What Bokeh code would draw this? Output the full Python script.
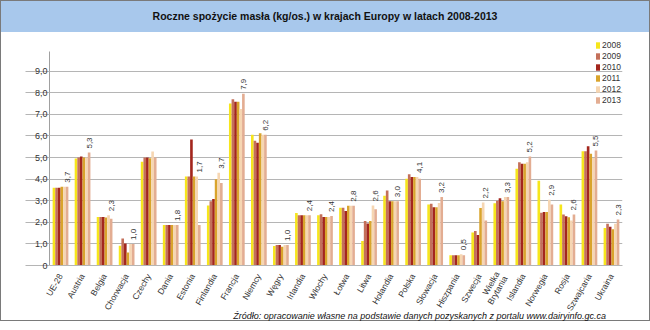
import math
from bokeh.plotting import figure
from bokeh.models import (ColumnDataSource, FixedTicker, Legend, LegendItem, Div,
                          Range1d, FactorRange)
from bokeh.layouts import column
from bokeh.transform import dodge
from bokeh.embed import file_html
from bokeh.resources import INLINE
from bokeh.core.properties import value

countries = ["UE-28", "Austria", "Belgia", "Chorwacja", "Czechy", "Dania", "Estonia",
             "Finlandia", "Francja", "Niemcy", "Węgry", "Irlandia", "Włochy", "Łotwa",
             "Litwa", "Holandia", "Polska", "Słowacja", "Hiszpania", "Szwecja",
             "Wielka\nBrytania", "Islandia", "Norwegia", "Rosja", "Szwajcaria", "Ukraina"]

years = ["2008", "2009", "2010", "2011", "2012", "2013"]

v2008 = [3.60, 4.95, 2.25, 0.92, 4.80, 1.88, 4.12, 2.78, 7.50, 6.05, 0.90, 2.43, 2.33,
         2.68, 1.14, 3.23, 4.02, 2.82, 0.47, 1.53, 2.88, 4.48, 3.92, 2.82, 5.29, 1.74]
v2009 = [3.60, 5.00, 2.25, 1.25, 5.00, 1.88, 4.12, 2.98, 7.70, 5.78, 0.95, 2.33, 2.37,
         2.68, 2.06, 3.47, 4.23, 2.86, 0.48, 1.60, 3.00, 4.78, 2.44, 2.36, 5.29, 1.93]
v2010 = [3.60, 5.05, 2.25, 1.02, 5.00, 1.88, 5.83, 3.08, 7.58, 5.68, 0.95, 2.33, 2.25,
         2.52, 1.95, 2.98, 4.10, 2.70, 0.48, 1.41, 3.12, 4.71, 2.48, 2.28, 5.52, 1.80]
v2011 = [3.65, 5.00, 2.22, 0.60, 4.97, 1.88, 4.12, 4.00, 7.58, 6.12, 0.87, 2.33, 2.25,
         2.77, 2.06, 2.98, 4.10, 2.70, 0.48, 2.66, 2.98, 4.71, 2.48, 2.24, 5.17, 1.68]
v2012 = [3.65, 5.00, 2.33, 1.00, 5.28, 1.88, 4.12, 4.30, 7.25, 6.05, 0.95, 2.33, 2.25,
         2.77, 2.78, 2.98, 4.10, 2.90, 0.52, 2.92, 3.17, 4.78, 3.04, 2.08, 4.98, 1.93]
v2013 = [3.65, 5.23, 2.17, 1.00, 5.00, 1.88, 1.87, 3.82, 7.95, 6.05, 0.95, 2.33, 2.29,
         2.77, 2.60, 2.98, 4.02, 3.17, 0.48, 2.08, 3.17, 5.05, 2.82, 2.36, 5.32, 2.13]

labels = ["3,7", "5,3", "2,3", "1,0", "", "1,8", "1,7", "3,7", "7,9", "6,2", "1,0", "2,4",
          "2,4", "2,8", "2,6", "3,0", "4,1", "3,2", "0,5", "2,2", "3,3", "5,2", "2,9",
          "2,6", "5,5", "2,3"]

y_ticks = [0, 1, 2, 3, 4, 5, 6, 7, 8, 9]
y_tick_labels = ["0", "1,0", "2,0", "3,0", "4,0", "5,0", "6,0", "7,0", "8,0", "9,0"]

colors = ["#f6e61c", "#c4705a", "#a3261d", "#d9a42c", "#f6d6b2", "#e3ad92"]

title_text = "Roczne spożycie masła (kg/os.) w krajach Europy w latach 2008-2013"
source_text = ("Źródło: opracowanie własne na podstawie danych pozyskanych z portalu "
               "www.dairyinfo.gc.ca")

FONT = "Liberation Sans"
series = [v2008, v2009, v2010, v2011, v2012, v2013]

data = dict(country=countries, label=labels,
            label_y=[max(a, b) for a, b in zip(v2012, v2013)])
for yr, vals in zip(years, series):
    data["y" + yr] = vals
src = ColumnDataSource(data)

# frame: left 49, right 622, top 40, bottom 265 (page pixels); 21.6 px per unit
p = figure(x_range=FactorRange(*countries), y_range=Range1d(0, 10.42),
           width=648, height=288, output_backend="svg", toolbar_location=None,
           title=None,
           min_border_left=48, min_border_right=27, min_border_top=8,
           min_border_bottom=55)
p.outline_line_color = None
p.background_fill_color = "white"
p.border_fill_color = None

bw = 0.119
renderers = []
for i, (yr, col) in enumerate(zip(years, colors)):
    r = p.vbar(x=dodge("country", (i - 2.5) * bw, range=p.x_range), top="y" + yr,
               width=bw, source=src, fill_color=col, line_color=None)
    renderers.append(r)

p.text(x=dodge("country", 2.5 * bw, range=p.x_range), y="label_y", text="label",
       source=src, angle=math.pi / 2, text_align="left", text_baseline="middle",
       y_offset=-4, text_font=value(FONT), text_font_size="8px", text_color="#333333")

# grid
p.xgrid.grid_line_color = None
p.ygrid.ticker = FixedTicker(ticks=y_ticks[1:])
p.ygrid.grid_line_color = "#b5b5b5"

# y axis
ya = p.yaxis[0]
ya.ticker = FixedTicker(ticks=y_ticks)
ya.bounds = (0, 9.9)
ya.major_label_overrides = {t: s for t, s in zip(y_ticks, y_tick_labels)}
ya.minor_tick_line_color = None
ya.major_tick_in = 0
ya.major_tick_out = 24
ya.major_tick_line_color = "#b5b5b5"
ya.axis_line_color = "#a0a0a0"
ya.major_label_standoff = -22
ya.major_label_text_baseline = "bottom"
ya.major_label_text_font = FONT
ya.major_label_text_font_size = "9px"
ya.major_label_text_color = "#333333"

# x axis
xa = p.xaxis[0]
xa.major_tick_line_color = None
xa.minor_tick_line_color = None
xa.axis_line_color = "#b5b5b5"
xa.major_label_orientation = math.radians(60)
xa.major_label_standoff = 3
xa.major_label_text_font = FONT
xa.major_label_text_font_size = "8.5px"
xa.major_label_text_color = "#333333"
xa.major_label_text_line_height = 0.9

legend = Legend(items=[LegendItem(label=yr, renderers=[r]) for yr, r in zip(years, renderers)],
                location="top_right", orientation="vertical", padding=2, margin=0,
                spacing=1, glyph_width=5, glyph_height=8, label_height=10,
                label_standoff=2, label_text_font=FONT, label_text_font_size="8.5px",
                label_text_color="#333333", background_fill_alpha=0,
                border_line_color=None)
p.add_layout(legend)

header = Div(text=title_text, width=648, height=31,
             styles={"background-color": "#a8c8ec", "text-align": "center",
                     "line-height": "31px", "font-size": "10.5px", "font-weight": "bold",
                     "font-family": "'Liberation Sans', sans-serif", "margin": "0",
                     "color": "#111111"})
footer = Div(text=source_text, width=648, height=14,
             styles={"text-align": "right", "line-height": "14px", "font-size": "9px",
                     "font-style": "italic", "margin": "-14px 0 0 0",
                     "padding-top": "3px",
                     "font-family": "'Liberation Sans', sans-serif",
                     "color": "#111111", "padding-right": "43px", "box-sizing": "border-box"})

layout = column(header, p, footer, spacing=0,
                styles={"border": "1px solid #7a7a7a", "background-color": "white"})

open("out.html", "w").write(file_html(layout, INLINE))
